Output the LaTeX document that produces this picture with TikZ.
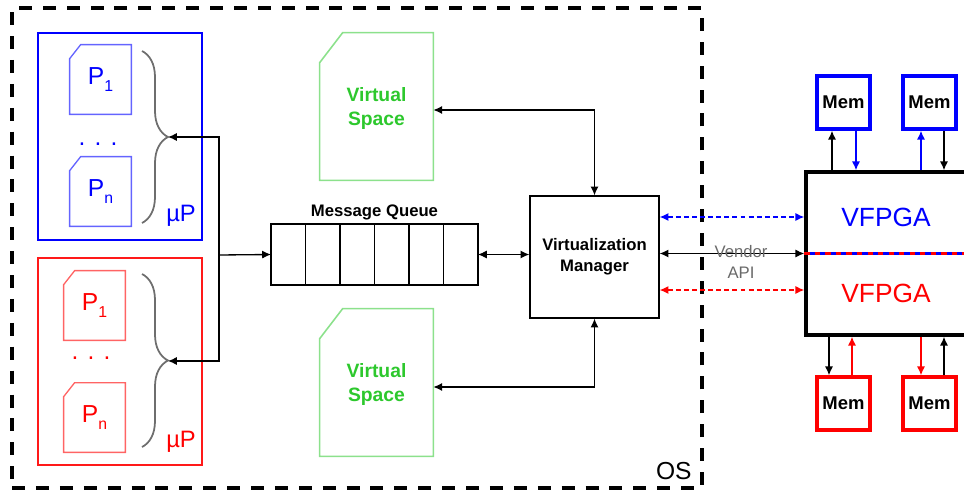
\documentclass[tikz,border=0pt]{standalone}
\usepackage{fontspec}
\setmainfont{Liberation Sans}
\usepackage{tikz}
\usetikzlibrary{arrows.meta,positioning,decorations.pathreplacing}
\definecolor{pblue}{RGB}{100,100,255}
\definecolor{pred}{RGB}{255,100,100}
\definecolor{vsgreen}{RGB}{140,225,140}
\definecolor{vstext}{RGB}{45,200,45}
\definecolor{bracegray}{RGB}{110,110,110}
\definecolor{apigray}{RGB}{105,105,105}
\tikzstyle{conn} = [line width=0.75pt,>={Latex[length=5pt,width=4.6pt]}]
\tikzstyle{osframe} = [draw,line width=2.1pt,dash pattern=on 7.4pt off 6.2pt,minimum width=13.8cm,minimum height=9.6cm]
\tikzstyle{upbox} = [draw,line width=0.75pt,minimum width=3.28cm,minimum height=4.14cm]
\tikzstyle{pbox} = [minimum width=1.22cm,minimum height=1.38cm,inner sep=0pt,font=\fontsize{14}{16}\selectfont]
\tikzstyle{grpbrace} = [decorate,decoration={brace,amplitude=0.52cm},draw=bracegray,line width=1pt]
\tikzstyle{cell} = [draw,line width=0.75pt,minimum width=0.69cm,minimum height=1.22cm,inner sep=0pt,outer sep=0pt]
\tikzstyle{vsbox} = [minimum width=2.26cm,minimum height=2.94cm,align=center,text=vstext,font=\bfseries\fontsize{11}{13.6}\selectfont]
\tikzstyle{mem} = [draw,line width=2pt,minimum size=1.06cm,inner sep=0pt,font=\bfseries\fontsize{10.5}{12}\selectfont]
\tikzstyle{vftext} = [font=\fontsize{15}{17}\selectfont]
\newcommand{\Psub}[1]{P\raisebox{-4pt}{\fontsize{9}{9}\selectfont #1}}

\begin{document}
\begin{tikzpicture}[x=0.02cm,y=-0.02cm]
\useasboundingbox (0,0) rectangle (964,490);
\clip (0,0) rectangle (964,490);

% operating system
\node[osframe] (os) at (357,248) {};
\node[font=\fontsize{14}{16}\selectfont] (oslbl) at ([xshift=-0.6cm,yshift=0.38cm]os.south east) {OS};

% the two processors
\node[upbox,draw=blue] (upb) at (120,136.5) {};
\node[upbox,draw=red!90] (upr) at (120,361.5) {};
\node[pbox,text=blue] (pb1) at (100.5,79.5) {\Psub{1}};
\node[pbox,text=blue] (pbn) at (100.5,191.5) {\Psub{n}};
\node[pbox,text=red] (pr1) at (94.5,305.5) {\Psub{1}};
\node[pbox,text=red] (prn) at (94.5,417.5) {\Psub{n}};
\foreach \p/\c in {pb1/pblue,pbn/pblue,pr1/pred,prn/pred}
  \draw[\c,line width=0.75pt] (\p.south west) -- ([yshift=-0.28cm]\p.north west) -- ([xshift=0.22cm]\p.north west) -- (\p.north east) -- (\p.south east) -- cycle;
\node[text=blue,font=\fontsize{14}{16}\selectfont] (dotsb) at (98,144) {. . .};
\node[text=red,font=\fontsize{14}{16}\selectfont] (dotsr) at (91,358) {. . .};
\node[text=blue,font=\fontsize{13.5}{15}\selectfont] (mub) at (181,216) {µP};
\node[text=red,font=\fontsize{13.5}{15}\selectfont] (mur) at (181,442) {µP};
\draw[grpbrace] (142,51) -- (142,223);
\draw[grpbrace] (142,274) -- (142,447);
\coordinate (tipb) at (168,137);
\coordinate (tipr) at (168,361);

% message queue
\node[cell] (c1) at (288.25,254.5) {};
\foreach \i [remember=\i as \j (initially 1)] in {2,...,6}
  \node[cell,right=0pt of c\j] (c\i) {};
\node[font=\bfseries\fontsize{9.5}{11}\selectfont,inner sep=0pt,above=2pt of c3.north east] (mqlbl) {Message Queue};
\coordinate (bus) at (219,255);
\draw[conn,->] (bus) |- (tipb);
\draw[conn,->] (bus) |- (tipr);
\draw[conn,->] (bus) -- (c1.west);

% manager and virtual spaces
\node[draw,line width=0.75pt,minimum width=2.58cm,minimum height=2.44cm,align=center,font=\bfseries\fontsize{9.5}{12}\selectfont] (vm) at (594.5,257) {Virtualization\\Manager};
\draw[conn,<->] (c6.east) -- (c6.east -| vm.west);
\node[vsbox,text depth=0pt] (vst) at (376.5,106.5) {Virtual\\Space};
\node[vsbox,text depth=0pt] (vsb) at (376.5,382.5) {Virtual\\Space};
\foreach \v in {vst,vsb}
  \draw[vsgreen,line width=0.9pt] (\v.south west) -- ([yshift=-0.6cm]\v.north west) -- ([xshift=0.46cm]\v.north west) -- (\v.north east) -- (\v.south east) -- cycle;
\draw[conn,<->] (vm.north) |- ([yshift=-0.07cm]vst.east);
\draw[conn,<->] (vm.south) |- ([yshift=-0.09cm]vsb.east);

% virtual fpga
\node[draw,line width=2pt,minimum width=3.2cm,minimum height=3.26cm] (fpga) at (886,253.5) {};
\draw[blue,line width=1.5pt] (fpga.west) -- (fpga.east);
\draw[red,line width=1.5pt,dash pattern=on 3pt off 3pt] (fpga.west) -- (fpga.east);
\node[vftext,text=blue] (vfb) at (886,217) {VFPGA};
\node[vftext,text=red] (vfr) at (886,293) {VFPGA};
\draw[conn,blue,dash pattern=on 2.8pt off 1.8pt,<->] (vm.east |- vfb) -- (fpga.west |- vfb);
\draw[conn,<->] (fpga.west -| vm.east) -- (fpga.west);
\draw[conn,red,dash pattern=on 2.8pt off 1.8pt,<->] ([yshift=0.06cm]vm.east |- vfr) -- ([yshift=0.06cm]fpga.west |- vfr);
\node[text=apigray,font=\fontsize{9.5}{11.5}\selectfont,align=center] (api) at (741,262) {Vendor\\API};

% memories
\node[mem,draw=blue] (mb1) at (843.5,102.5) {Mem};
\node[mem,draw=blue] (mb2) at (929.5,102.5) {Mem};
\node[mem,draw=red] (mr1) at (843.5,403.5) {Mem};
\node[mem,draw=red] (mr2) at (929.5,403.5) {Mem};
\draw[conn,->] ([xshift=-0.23cm]mb1.south |- fpga.north) -- ([xshift=-0.23cm]mb1.south);
\draw[conn,blue,->] ([xshift=0.25cm]mb1.south) -- ([xshift=0.25cm]mb1.south |- fpga.north);
\draw[conn,blue,->] ([xshift=-0.17cm]mb2.south |- fpga.north) -- ([xshift=-0.17cm]mb2.south);
\draw[conn,->] ([xshift=0.29cm]mb2.south) -- ([xshift=0.29cm]mb2.south |- fpga.north);
\draw[conn,->] ([xshift=-0.29cm]mr1.north |- fpga.south) -- ([xshift=-0.29cm]mr1.north);
\draw[conn,red,->] ([xshift=0.17cm]mr1.north) -- ([xshift=0.17cm]mr1.north |- fpga.south);
\draw[conn,red,->] ([xshift=-0.17cm]mr2.north |- fpga.south) -- ([xshift=-0.17cm]mr2.north);
\draw[conn,->] ([xshift=0.29cm]mr2.north) -- ([xshift=0.29cm]mr2.north |- fpga.south);
\end{tikzpicture}
\end{document}
